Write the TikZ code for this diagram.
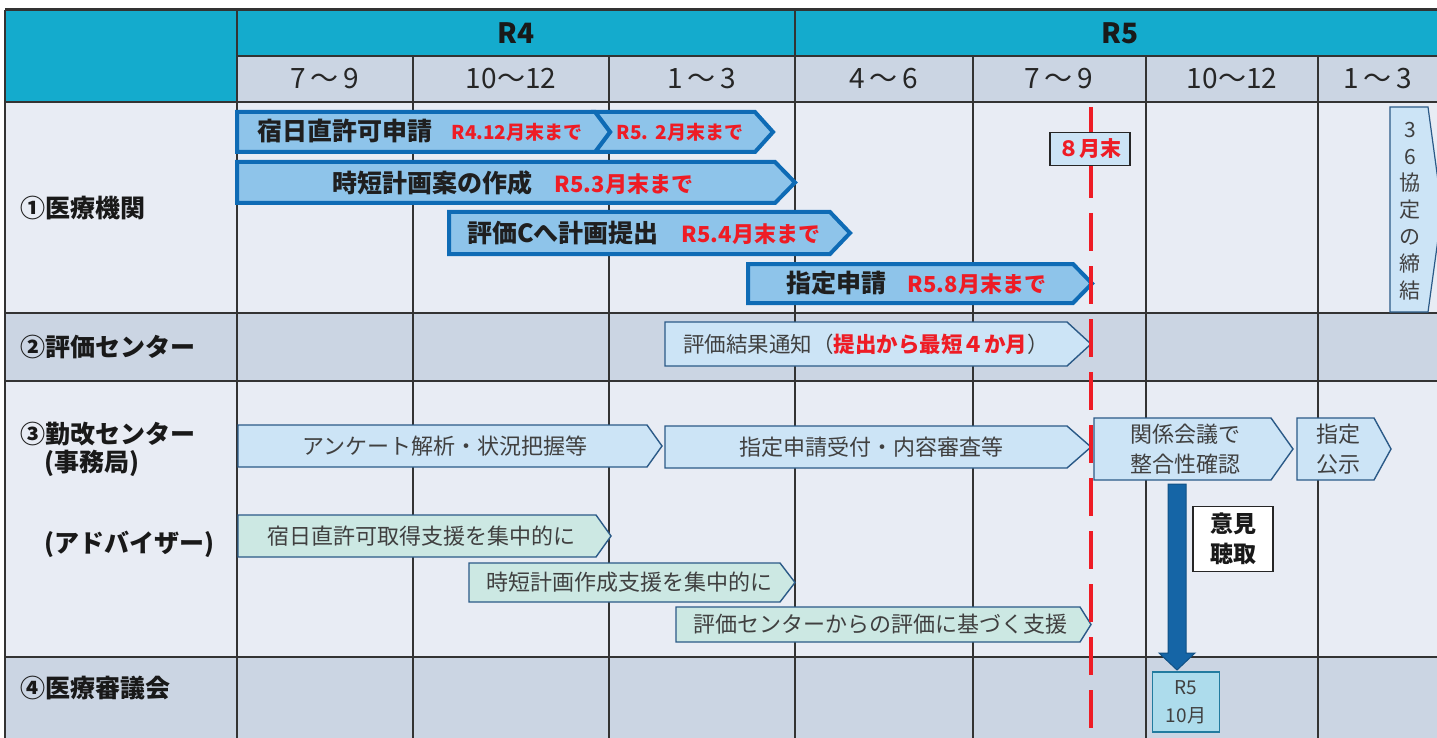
\documentclass[tikz,border=0pt]{standalone}
\usepackage{fontspec}
\setmainfont{Noto Sans CJK JP}
\definecolor{hdrcyan}{HTML}{14ABCD}
\definecolor{rowdark}{HTML}{CBD5E3}
\definecolor{rowlight}{HTML}{E8ECF4}
\definecolor{gridc}{HTML}{333333}
\definecolor{bigfill}{HTML}{8EC4EA}
\definecolor{bigedge}{HTML}{0E6BB5}
\definecolor{lfill}{HTML}{CCE4F6}
\definecolor{ledge}{HTML}{2B5A87}
\definecolor{gfill}{HTML}{CCE8E3}
\definecolor{redc}{HTML}{EE1C25}
\definecolor{txtc}{HTML}{404040}
\definecolor{downc}{HTML}{1565A6}
\definecolor{rtenfill}{HTML}{ADDCEC}
\newcommand\pentarrow[6]{%
  \draw[#1] (#2,#3) -- ({#4-#6},#3) -- (#4,{(#3+#5)/2}) -- ({#4-#6},#5) -- (#2,#5) -- cycle;}
\begin{document}
\begin{tikzpicture}[x=1pt,y=-1pt,
  gridline/.style={draw=gridc,line width=1.5pt},
  bigarrow/.style={fill=bigfill,draw=bigedge,line width=4pt,line join=miter},
  lightarrow/.style={fill=lfill,draw=ledge,line width=1.4pt,line join=miter},
  greenarrow/.style={fill=gfill,draw=ledge,line width=1.4pt,line join=miter},
  hdr/.style={font=\fontsize{28}{32}\selectfont\bfseries,text=black!90},
  month/.style={font=\fontsize{28}{32}\selectfont,text=black!85},
  rowlabel/.style={font=\fontsize{25}{30}\selectfont\bfseries,text=black!90,anchor=west,inner sep=0pt},
  bigtxt/.style={font=\fontsize{25}{30}\selectfont\bfseries,text=black!88,inner sep=0pt},
  redtxt/.style={font=\fontsize{22}{26}\selectfont\bfseries,text=redc,inner sep=0pt},
  redsmall/.style={font=\fontsize{19}{23}\selectfont\bfseries,text=redc,inner sep=0pt},
  ltxt/.style={font=\fontsize{22}{30}\selectfont,text=txtc,inner sep=0pt,align=center},
]
\useasboundingbox (0,0) rectangle (1437,738);
\fill[white] (0,0) rectangle (1437,738);
% backgrounds
\fill[hdrcyan] (5,10) rectangle (1437,56);
\fill[hdrcyan] (5,56) rectangle (237,102);
\fill[rowdark] (237,56) rectangle (1437,102);
\fill[rowlight] (5,102) rectangle (1437,313);
\fill[rowdark] (5,313) rectangle (1437,381);
\fill[rowlight] (5,381) rectangle (1437,657);
\fill[rowdark] (5,657) rectangle (1437,738);
% grid
\draw[gridc,line width=3pt] (5,10) -- (1437,10);
\draw[gridline] (5,10) -- (5,738);
\draw[gridline] (237,10) -- (237,738);
\draw[gridline] (795,10) -- (795,738);
\foreach \gx in {413,609,973,1146,1318} \draw[gridline] (\gx,56) -- (\gx,738);
\draw[gridline] (237,56) -- (1437,56);
\foreach \gy in {102,313,381,657} \draw[gridline] (5,\gy) -- (1437,\gy);
% header text
\node[hdr] (r4) at (516,33) {R4};
\node[hdr] (r5) at (1120,33) {R5};
\node[month] (m1) at (325,79) {7\,～\,9};
\node[month] (m2) at (511,79) {10～12};
\node[month] (m3) at (702,79) {1\,～\,3};
\node[month] (m4) at (884,79) {4\,～\,6};
\node[month] (m5) at (1059,79) {7\,～\,9};
\node[month] (m6) at (1232,79) {10～12};
\node[month] (m7) at (1378,79) {1\,～\,3};
% row labels
\node[rowlabel] (l1) at (20,208) {①医療機関};
\node[rowlabel] (l2) at (20,347) {②評価センター};
\node[rowlabel] (l3) at (20,434) {③勤改センター};
\node[rowlabel] (l3b) at (44,463) {(事務局)};
\node[rowlabel] (l3c) at (44,544) {(アドバイザー)};
\node[rowlabel] (l4) at (20,688) {④医療審議会};
% row 1 big arrows
\draw[bigarrow] (595,112) -- (755,112) -- (773,132) -- (755,152) -- (595,152) -- (610,132) -- cycle;
\pentarrow{bigarrow}{237}{112}{610}{152}{15}
\node[bigtxt] (a1) at (345,131) {宿日直許可申請};
\node[redsmall] (a1r) at (517,132) {R4.12月末まで};
\node[redsmall] (a1s) at (680,132) {R5.\hspace{0.4em}2月末まで};
\pentarrow{bigarrow}{237}{162}{795}{203}{20}
\node[bigtxt] (a2) at (432,183) {時短計画案の作成};
\node[redtxt] (a2r) at (624,184) {R5.3月末まで};
\pentarrow{bigarrow}{449}{212}{850}{254}{20}
\node[bigtxt] (a3) at (563,233) {評価Cへ計画提出};
\node[redtxt] (a3r) at (751,234) {R5.4月末まで};
\pentarrow{bigarrow}{748}{264}{1092}{303}{19}
\node[bigtxt] (a4) at (836,283) {指定申請};
\node[redtxt] (a4r) at (977,284) {R5.8月末まで};
% 36 agreement
\draw[lightarrow,line width=1.2pt] (1390,107) -- (1428,107) -- (1442,210) -- (1428,312) -- (1390,312) -- cycle;
\node[font=\fontsize{21}{26.8}\selectfont,text=txtc,align=center,inner sep=0pt] (k36) at (1410,211) {3\\6\\協\\定\\の\\締\\結};
% row 2
\pentarrow{lightarrow}{665}{322}{1091}{366}{24}
\node[ltxt,font=\fontsize{21.5}{26}\selectfont] (b1) at (866,344) {評価結果通知（\textcolor{redc}{\bfseries 提出から最短４か月}）};
% row 3
\pentarrow{lightarrow}{238}{425}{662}{467}{15}
\node[ltxt] (c1) at (445,446) {アンケート解析・状況把握等};
\pentarrow{lightarrow}{665}{426}{1091}{468}{24}
\node[ltxt] (c2) at (871,447) {指定申請受付・内容審査等};
\pentarrow{lightarrow}{1094}{418}{1293}{480}{22}
\node[ltxt] (c3) at (1185,449) {関係会議で\\整合性確認};
\pentarrow{lightarrow}{1297}{418}{1391}{480}{17}
\node[ltxt] (c4) at (1338,449) {指定\\公示};
\pentarrow{greenarrow}{238}{515}{611}{557}{15}
\node[ltxt] (d1) at (421,536) {宿日直許可取得支援を集中的に};
\pentarrow{greenarrow}{469}{563}{795}{602}{15}
\node[ltxt] (d2) at (629,582) {時短計画作成支援を集中的に};
\pentarrow{greenarrow}{676}{607}{1091}{642}{11}
\node[ltxt] (d3) at (880,624) {評価センターからの評価に基づく支援};
% red dashed line
\coordinate (dtop) at (1091,107);
\coordinate (dbot) at (1091,738);
\draw[redc,line width=4pt,dash pattern=on 38pt off 15pt] (dtop) -- (dbot);
\node[draw=black!85,line width=1.5pt,fill=lfill,minimum width=80pt,minimum height=33pt,inner sep=0pt,font=\fontsize{21}{25}\selectfont\bfseries,text=redc] (aug) at (1090,149) {８月末};
% down arrow
\draw[fill=downc,draw=downc!80!black,line width=1pt,line join=miter] (1168,484) -- (1186,484) -- (1186,653) -- (1195,653) -- (1177,670) -- (1159,653) -- (1168,653) -- cycle;
\node[draw=black!85,fill=white,line width=1.5pt,minimum width=80pt,minimum height=65pt,inner sep=0pt,align=center,font=\fontsize{23}{30}\selectfont\bfseries,text=black!90] (iken) at (1233,539) {意見\\聴取};
\node[draw=ledge!80!cyan,fill=rtenfill,line width=1.4pt,minimum width=67pt,minimum height=60pt,inner sep=0pt,align=center,font=\fontsize{19}{28}\selectfont,text=txtc] (r510) at (1186,702) {R5\\10月};
\end{tikzpicture}
\end{document}
